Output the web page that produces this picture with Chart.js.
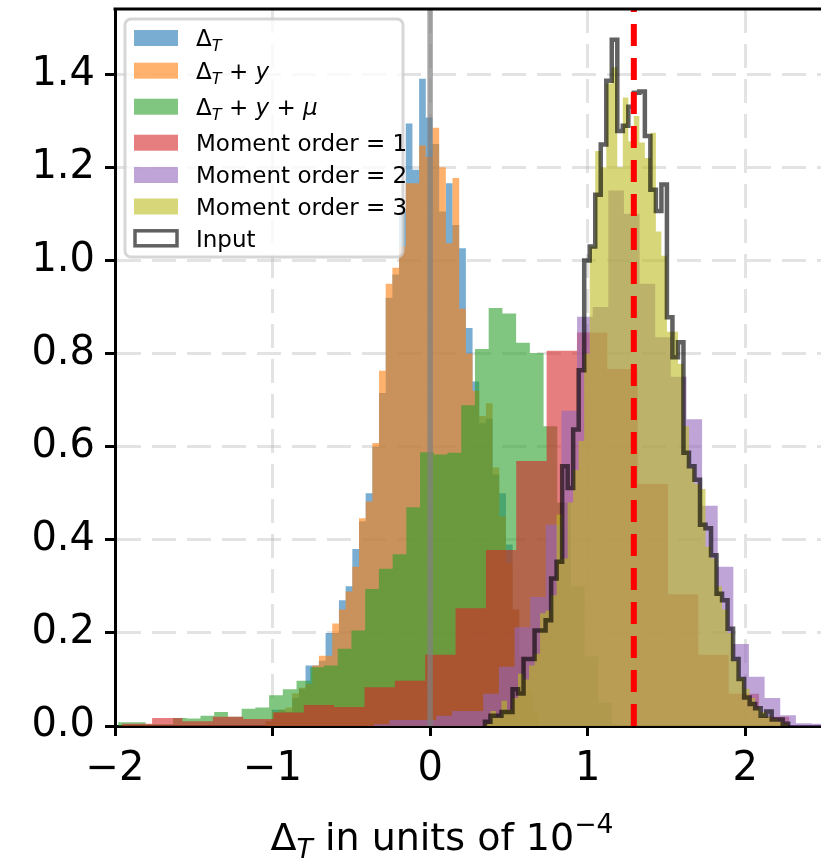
<!DOCTYPE html>
<html>
<head>
  <title>Moment histograms</title>
  <script src="https://cdn.jsdelivr.net/npm/chart.js"></script>
  <style>
    body { margin: 0; overflow: hidden; background: #fff; }
  </style>
</head>
<body>
  <canvas id="chart" width="824" height="865" style="width:824px;height:865px"></canvas>
  <script>
    // axis ticks
    const xTicks = [-2, -1, 0, 1, 2];
    const yTicks = [0, 0.2, 0.4, 0.6, 0.8, 1.0, 1.2, 1.4];
    const xMin = -2, xMax = 2.5, yMax = 1.54;

    // series names (_X = italic subscript, $..$ = italic, ^{..} = superscript)
    const names = ['\u0394_T', '\u0394_T + $y$', '\u0394_T + $y$ + $\u03bc$',
                   'Moment order = 1', 'Moment order = 2', 'Moment order = 3', 'Input'];
    const xTitle = '\u0394_T in units of 10^{\u22124}';

    // histograms: first bin edge, bin width, densities
    const dT_start = -1.045, dT_width = 0.0424;
    const dT = [0.01, 0.035, 0.035, 0.03, 0.06, 0.08, 0.13, 0.13, 0.14, 0.2, 0.2, 0.27, 0.3, 0.38, 0.44,
      0.5, 0.6, 0.715, 0.92, 0.97, 1.105, 1.294, 1.195, 1.39, 1.307, 1.25, 1.105, 1.166, 1.076, 1.026,
      0.855, 0.74, 0.65, 0.66, 0.54, 0.5, 0.39, 0.25, 0.15, 0.07, 0.03];
    const dTy = [0.01, 0.03, 0.035, 0.04, 0.07, 0.082, 0.09, 0.13, 0.151, 0.151, 0.22, 0.25, 0.289, 0.342,
      0.446, 0.482, 0.608, 0.763, 0.95, 0.984, 1.03, 1.166, 1.166, 1.247, 1.222, 1.285, 1.2, 1.037, 1.177,
      0.896, 0.8, 0.72, 0.666, 0.693, 0.555, 0.45, 0.35, 0.25, 0.15, 0.08, 0.03];

    const dTyMu_start = -1.98, dTyMu_width = 0.0871;
    const dTyMu = [0.008, 0.008, 0.004, 0.004, 0.017, 0.016, 0.022, 0.03, 0.02, 0.037, 0.04, 0.066, 0.079,
      0.097, 0.126, 0.13, 0.166, 0.205, 0.294, 0.338, 0.369, 0.47, 0.588, 0.583, 0.587, 0.689, 0.81, 0.898,
      0.886, 0.823, 0.801, 0.644, 0.48, 0.3, 0.15, 0.05];

    const m1_start = -1.957, m1_width = 0.1926;
    const m1 = [0.005, 0.017, 0.01, 0.02, 0.015, 0.029, 0.045, 0.041, 0.083, 0.097, 0.153, 0.253, 0.378,
      0.569, 0.806, 0.845, 0.767, 0.52, 0.283, 0.153, 0.069, 0.02];

    const m2_start = -0.357, m2_width = 0.0992;
    const m2 = [0.004, 0.013, 0.013, 0.013, 0.022, 0.032, 0.032, 0.069, 0.127, 0.212, 0.277, 0.432, 0.677,
      0.879, 0.9, 1.15, 1.1, 0.95, 0.835, 0.75, 0.659, 0.473, 0.342, 0.176, 0.106, 0.06, 0.023, 0.006, 0.005];

    const in_start = 0.348, in_width = 0.035;
    const m3 = [0.005, 0.032, 0.02, 0.054, 0.035, 0.06, 0.112, 0.1, 0.13, 0.155, 0.242, 0.248, 0.281, 0.454,
      0.36, 0.48, 0.55, 0.612, 0.8, 1.03, 1.235, 1.2, 1.38, 1.415, 1.2, 1.35, 1.256, 1.31, 1.253, 1.22, 1.274,
      1.062, 1.01, 0.847, 0.847, 0.778, 0.644, 0.554, 0.52, 0.509, 0.385, 0.36, 0.3, 0.25, 0.2, 0.14, 0.104,
      0.08, 0.06, 0.04, 0.03, 0.02, 0.015, 0.01, 0.005];
    const input = [0.009, 0.022, 0.022, 0.03, 0.03, 0.079, 0.07, 0.144, 0.144, 0.205, 0.205, 0.227, 0.317,
      0.353, 0.558, 0.511, 0.637, 0.764, 1.0, 1.03, 1.141, 1.249, 1.386, 1.474, 1.278, 1.289, 1.33, 1.36,
      1.363, 1.267, 1.152, 1.106, 1.163, 0.878, 0.792, 0.824, 0.587, 0.558, 0.529, 0.432, 0.425, 0.367,
      0.284, 0.27, 0.209, 0.144, 0.101, 0.061, 0.047, 0.038, 0.022, 0.031, 0.014, 0.014, 0.005];

    // vertical reference lines
    const zeroLine = 0;
    const trueValue = 1.293;

    const colors = ['rgba(31,119,180,0.6)', 'rgba(255,127,14,0.6)', 'rgba(44,160,44,0.6)',
                    'rgba(214,39,40,0.6)', 'rgba(148,103,189,0.6)', 'rgba(188,189,34,0.6)'];
    const inputEdge = 'rgba(0,0,0,0.62)';
    const FONT = 'DejaVu Sans';

    // step outline points at bin edges
    function histPoints(start, width, h) {
      const pts = [{x: start, y: 0}];
      h.forEach((v, i) => pts.push({x: start + i * width, y: v}));
      pts.push({x: start + h.length * width, y: 0});
      return pts;
    }

    function histSet(label, start, width, h, color, order) {
      return {
        label: label, data: histPoints(start, width, h), stepped: 'before',
        fill: 'origin', backgroundColor: color, borderWidth: 0, borderColor: 'rgba(0,0,0,0)',
        pointRadius: 0, order: order
      };
    }

    // tiny markup -> text runs
    function parseRich(s) {
      const runs = [];
      let i = 0, buf = '', italic = false;
      const flush = () => { if (buf) runs.push({t: buf, it: italic, k: 0}); buf = ''; };
      while (i < s.length) {
        const c = s[i];
        if (c === '$') { flush(); italic = !italic; i++; }
        else if (c === '_') { flush(); runs.push({t: s[i + 1], it: true, k: -1}); i += 2; }
        else if (c === '^' && s[i + 1] === '{') {
          flush(); const j = s.indexOf('}', i);
          runs.push({t: s.slice(i + 2, j), it: false, k: 1}); i = j + 1;
        } else { buf += c; i++; }
      }
      flush();
      return runs;
    }

    function richWidth(ctx, runs, size) {
      let w = 0;
      runs.forEach(r => {
        const sz = r.k ? size * 0.7 : size;
        ctx.font = (r.it ? 'italic ' : '') + sz + 'px "' + FONT + '"';
        w += ctx.measureText(r.t).width;
      });
      return w;
    }

    function drawRich(ctx, s, x, baseline, size, align) {
      const runs = parseRich(s);
      if (align === 'center') x -= richWidth(ctx, runs, size) / 2;
      ctx.textBaseline = 'alphabetic';
      ctx.textAlign = 'left';
      runs.forEach(r => {
        const sz = r.k ? size * 0.7 : size;
        ctx.font = (r.it ? 'italic ' : '') + sz + 'px "' + FONT + '"';
        const dy = r.k === -1 ? size * 0.22 : (r.k === 1 ? -size * 0.45 : 0);
        ctx.fillText(r.t, x, baseline + dy);
        x += ctx.measureText(r.t).width;
      });
    }

    const decor = {
      id: 'decor',
      afterDraw(chart) {
        const ctx = chart.ctx, a = chart.chartArea;
        ctx.save();
        // top spine
        ctx.strokeStyle = '#000';
        ctx.lineWidth = 3;
        ctx.beginPath();
        ctx.moveTo(a.left - 1.5, a.top);
        ctx.lineTo(a.right, a.top);
        ctx.stroke();

        // legend box
        const bx = 125, by = 19, bw = 278, bh = 238, r = 6;
        ctx.beginPath();
        ctx.roundRect(bx, by, bw, bh, r);
        ctx.fillStyle = 'rgba(255,255,255,0.8)';
        ctx.fill();
        ctx.lineWidth = 3;
        ctx.strokeStyle = 'rgba(204,204,204,0.8)';
        ctx.stroke();

        const rows = [38, 70.7, 106.7, 142.7, 175, 206.5, 238.3];
        const size = 23;
        names.forEach((n, i) => {
          const cy = rows[i];
          if (i < 6) {
            ctx.fillStyle = colors[i];
            ctx.fillRect(134, cy - 8, 44, 16);
          } else {
            ctx.fillStyle = 'rgba(255,255,255,1)';
            ctx.fillRect(135, cy - 7.5, 42, 15);
            ctx.strokeStyle = inputEdge;
            ctx.lineWidth = 3.5;
            ctx.strokeRect(135, cy - 7.5, 42, 15);
          }
          ctx.fillStyle = '#000';
          drawRich(ctx, n, 196, cy + size * 0.36, size, 'left');
        });

        // x axis title
        ctx.fillStyle = '#000';
        drawRich(ctx, xTitle, 442, 850, 38, 'center');
        ctx.restore();
      }
    };

    const ctx = document.getElementById('chart').getContext('2d');
    const chart = new Chart(ctx, {
      type: 'line',
      data: {
        datasets: [
          histSet(names[0], dT_start, dT_width, dT, colors[0], 8),
          histSet(names[1], dT_start, dT_width, dTy, colors[1], 7),
          histSet(names[2], dTyMu_start, dTyMu_width, dTyMu, colors[2], 6),
          histSet(names[3], m1_start, m1_width, m1, colors[3], 5),
          histSet(names[4], m2_start, m2_width, m2, colors[4], 4),
          histSet(names[5], in_start, in_width, m3, colors[5], 3),
          {
            label: names[6], data: histPoints(in_start, in_width, input), stepped: 'before',
            fill: false, borderColor: inputEdge, borderWidth: 4.5, pointRadius: 0, order: 2,
            borderJoinStyle: 'miter'
          },
          {
            label: 'zero', data: [{x: zeroLine, y: 0}, {x: zeroLine, y: yMax}],
            borderColor: 'rgba(128,128,128,0.7)', borderWidth: 5.5, pointRadius: 0, fill: false, order: 1
          },
          {
            label: 'true', data: [{x: trueValue, y: 0}, {x: trueValue, y: yMax}],
            borderColor: '#ff0000', borderWidth: 6, borderDash: [22, 12], pointRadius: 0,
            fill: false, order: 0
          }
        ]
      },
      options: {
        responsive: false,
        animation: false,
        devicePixelRatio: 1,
        layout: { padding: { top: 9, right: 0, left: 0, bottom: 0 } },
        plugins: { legend: { display: false }, tooltip: { enabled: false } },
        elements: { line: { tension: 0 } },
        scales: {
          x: {
            type: 'linear', min: xMin, max: xMax, z: 1,
            afterBuildTicks: s => { s.ticks = xTicks.map(v => ({value: v})); },
            afterFit: s => { s.height = 139; s.paddingLeft = 0; s.paddingRight = 0; },
            grid: { color: 'rgba(176,176,176,0.35)', lineWidth: 3, tickColor: '#000', tickWidth: 3, tickLength: 10 },
            border: { color: '#000', width: 3, dash: [24, 11] },
            ticks: {
              color: '#000', padding: 10, font: { family: FONT, size: 40 },
              callback: v => (v < 0 ? '\u2212' + Math.abs(v) : String(v))
            }
          },
          y: {
            type: 'linear', min: 0, max: yMax, z: 1,
            afterBuildTicks: s => { s.ticks = yTicks.map(v => ({value: v})); },
            afterFit: s => { s.width = 115; s.paddingTop = 0; s.paddingBottom = 0; },
            grid: { color: 'rgba(176,176,176,0.35)', lineWidth: 3, tickColor: '#000', tickWidth: 3, tickLength: 10 },
            border: { color: '#000', width: 3, dash: [24, 11] },
            ticks: {
              color: '#000', padding: 10, font: { family: FONT, size: 40 },
              callback: v => v.toFixed(1)
            }
          }
        }
      },
      plugins: [decor]
    });
  </script>
</body>
</html>
